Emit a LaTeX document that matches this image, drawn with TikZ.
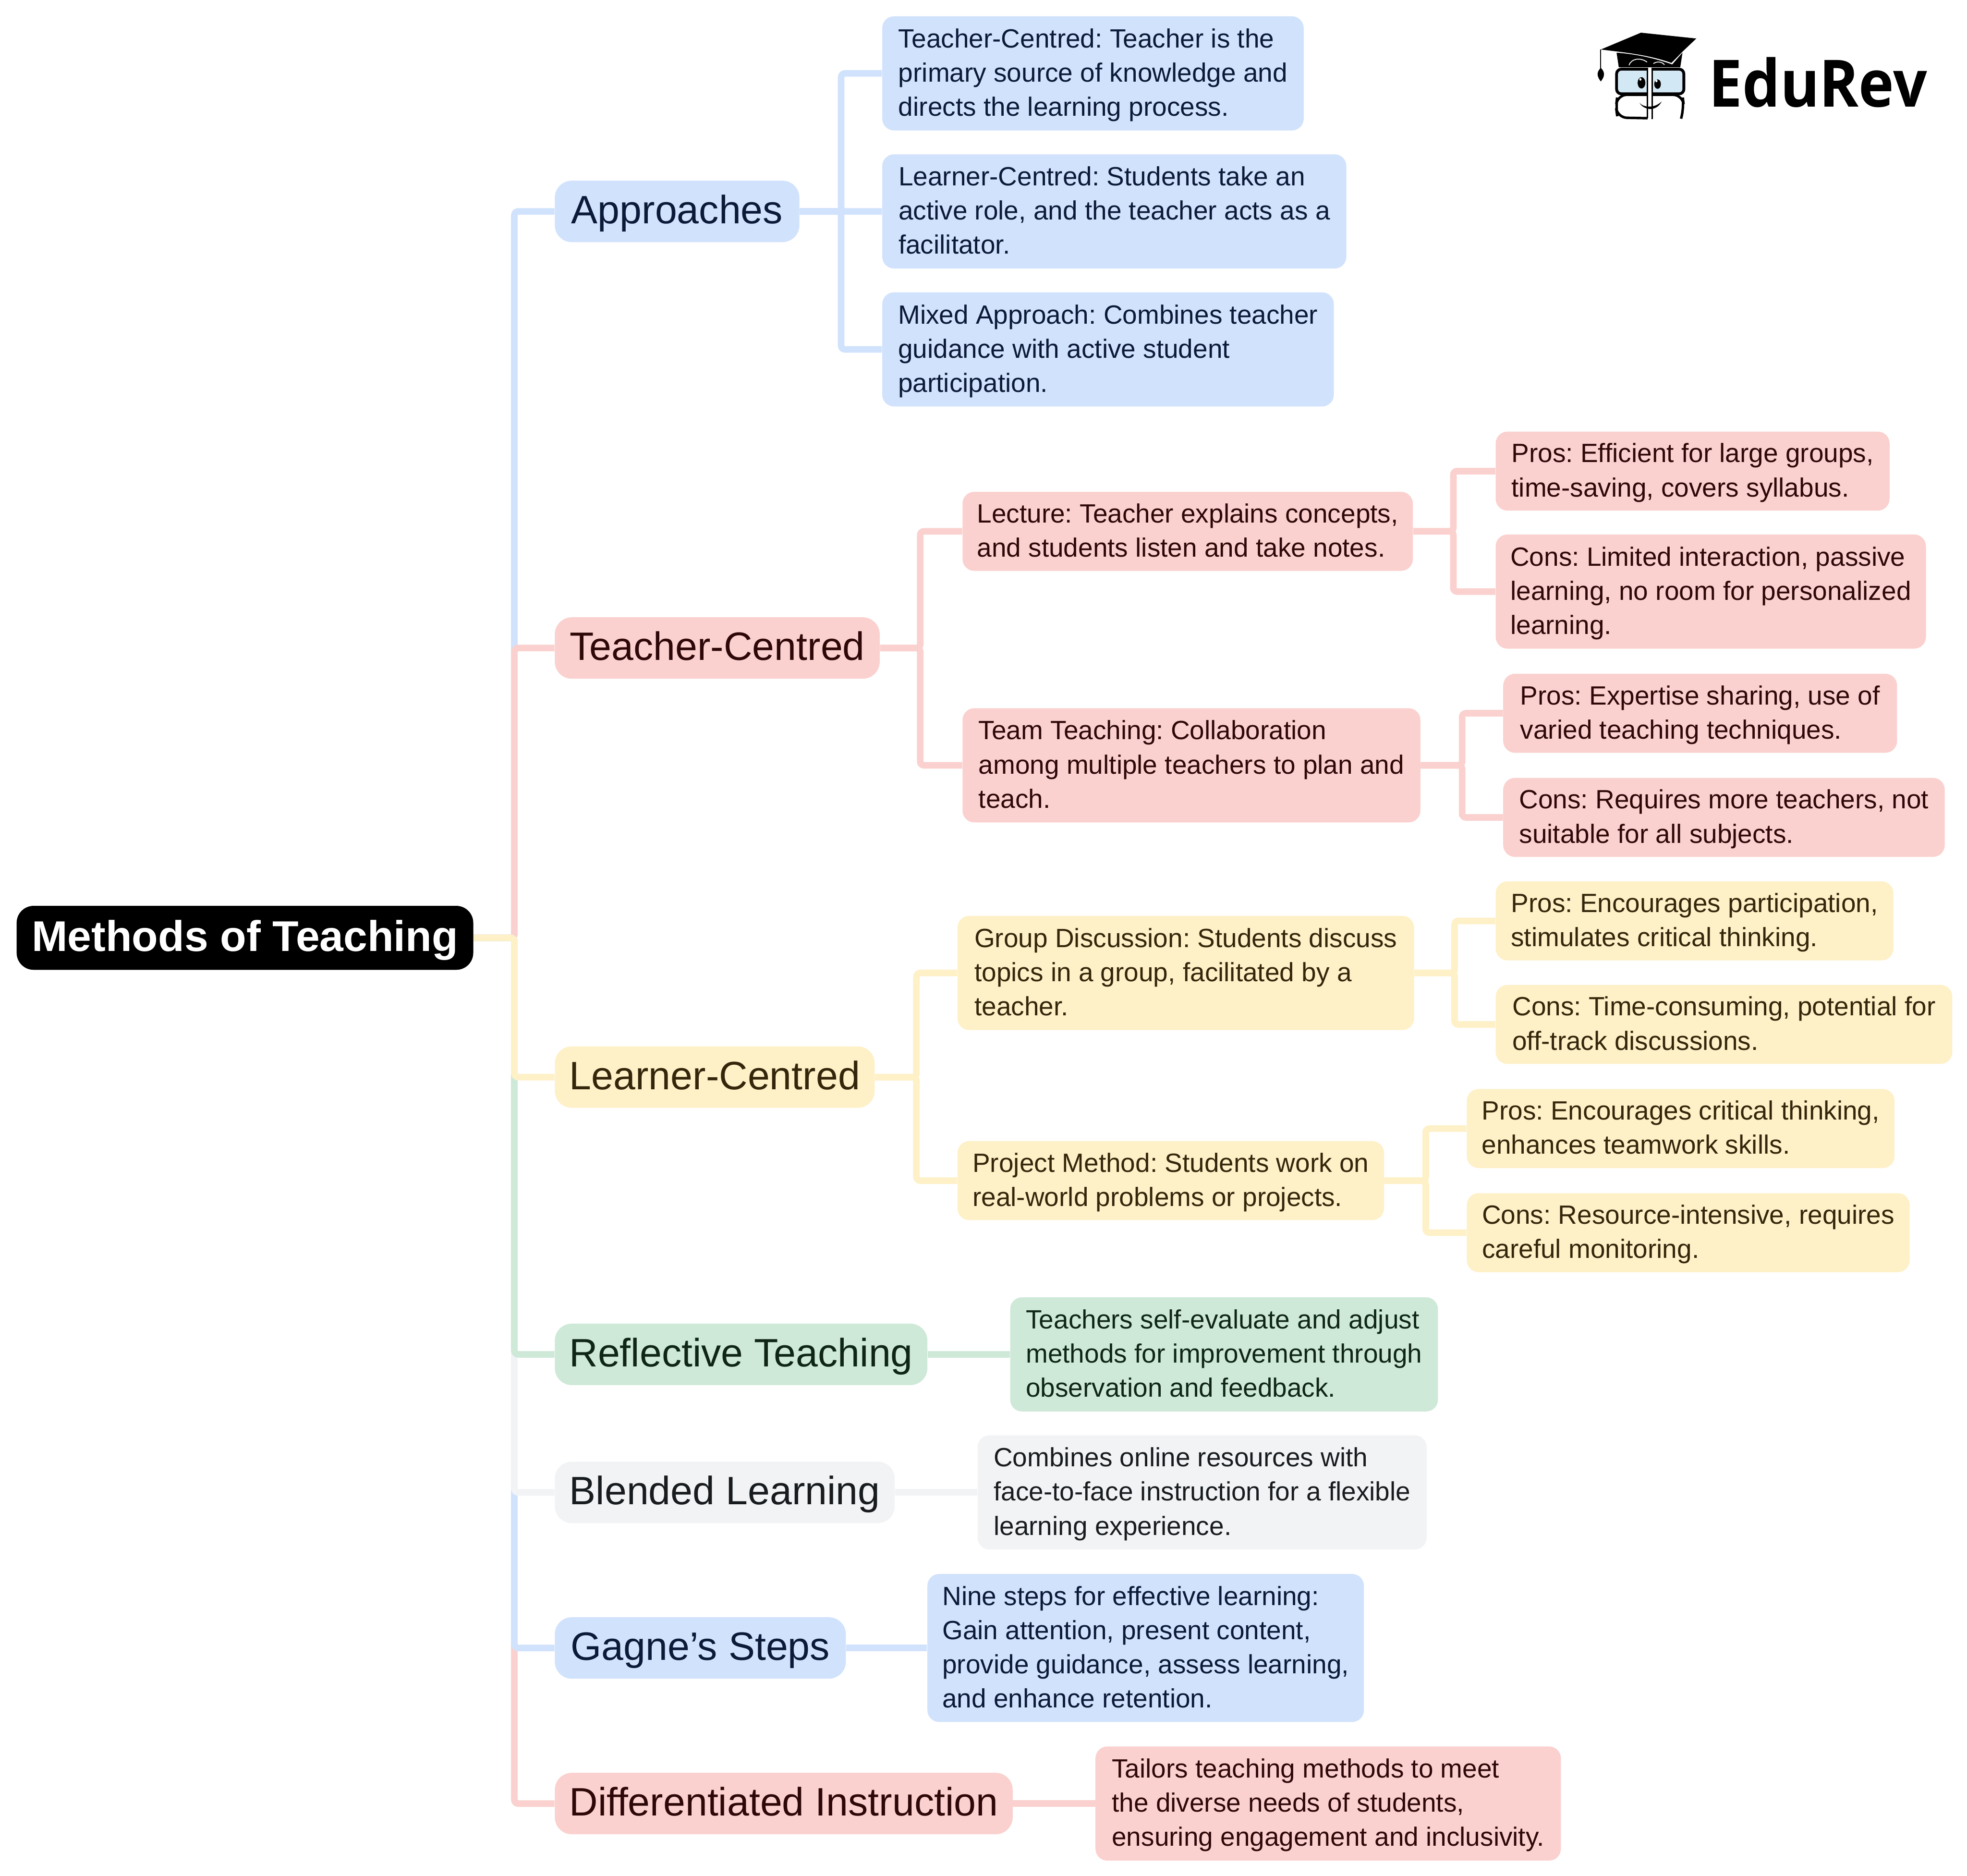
\documentclass[tikz,border=0pt]{standalone}
\usepackage{fontspec}
\usepackage{tikz}
\setmainfont{Liberation Sans}
\newfontfamily\logofont{Open Sans}[FakeStretch=0.915]
\frenchspacing

\definecolor{cblue}{HTML}{D1E2FC}
\definecolor{cpink}{HTML}{FAD1CE}
\definecolor{cyellow}{HTML}{FEF0C7}
\definecolor{cgreen}{HTML}{CEE9D8}
\definecolor{cgray}{HTML}{F2F3F5}
\definecolor{tblue}{HTML}{0A1A38}
\definecolor{tpink}{HTML}{2E0808}
\definecolor{tyellow}{HTML}{33260A}
\definecolor{tgreen}{HTML}{0F2616}
\definecolor{tgray}{HTML}{181C1E}
\definecolor{glass}{HTML}{D3E8F5}

\def\un{0.026595cm}
\newcommand{\topstrut}{\rule{0pt}{14pt}}
\newcommand{\botstrut}{\rule[-3.8pt]{0pt}{3.8pt}}
\tikzset{
  x=\un, y=-\un,
  tone/.style={fill=c#1, text=t#1},
  size/.style 2 args={minimum width=#1*\un, minimum height=#2*\un},
  leaf/.style={anchor=west, align=left, inner sep=0pt, rounded corners=0.25cm,
    font=\fontsize{15.93}{20.6}\selectfont, execute at end node=\botstrut},
  topic/.style={anchor=west, inner sep=0pt, rounded corners=0.36cm,
    text height=0.75cm, text depth=0.23cm,
    font=\fontsize{23.9}{28}\selectfont},
  rootnode/.style={topic, fill=black, text=white, text height=0.8cm,
    font=\fontsize{25.9}{30}\selectfont\bfseries},
  wire/.style={line width=0.14cm, rounded corners=0.08cm, draw=c#1},
}

\begin{document}
\begin{tikzpicture}
  \useasboundingbox (0,0) rectangle (1568,1495);

  \node[rootnode, size={364}{51}] (root) at (13,747.5) {Methods of Teaching};

  \node[topic, tone=blue, size={195}{49}] (appr) at (442,168.5) {Approaches};
  \node[topic, tone=pink, size={259}{49}] (tcen) at (442,516.5) {Teacher-Centred};
  \node[topic, tone=yellow, size={255}{49}] (lcen) at (442,858.5) {Learner-Centred};
  \node[topic, tone=green, size={297}{49}] (refl) at (442,1079.5) {Reflective Teaching};
  \node[topic, tone=gray, size={271}{49}] (blen) at (442,1189.5) {Blended Learning};
  \node[topic, tone=blue, size={232}{49}] (gagn) at (442,1313.5) {Gagne’s Steps};
  \node[topic, tone=pink, size={365}{49}] (diff) at (442,1437.5) {Differentiated Instruction};

  \node[leaf, tone=blue, size={336}{91}] (appra) at (703,58.5)
    {\topstrut Teacher-Centred: Teacher is the\\primary source of knowledge and\\directs the learning process.};
  \node[leaf, tone=blue, size={370}{91}] (apprb) at (703,168.5)
    {\topstrut Learner-Centred: Students take an\\active role, and the teacher acts as a\\facilitator.};
  \node[leaf, tone=blue, size={360}{91}] (apprc) at (703,278.5)
    {\topstrut Mixed Approach: Combines teacher\\guidance with active student\\participation.};

  \node[leaf, tone=pink, size={359}{63}] (lect) at (767,423.5)
    {\topstrut Lecture: Teacher explains concepts,\\and students listen and take notes.};
  \node[leaf, tone=pink, size={365}{91}] (team) at (767,610)
    {\topstrut Team Teaching: Collaboration\\among multiple teachers to plan and\\teach.};
  \node[leaf, tone=pink, size={314}{63}] (lectp) at (1192,375.5)
    {\topstrut Pros: Efficient for large groups,\\time-saving, covers syllabus.};
  \node[leaf, tone=pink, size={343}{91}] (lectc) at (1192,471.5)
    {\topstrut Cons: Limited interaction, passive\\learning, no room for personalized\\learning.};
  \node[leaf, tone=pink, size={314}{63}] (teamp) at (1198,568.5)
    {\topstrut Pros: Expertise sharing, use of\\varied teaching techniques.};
  \node[leaf, tone=pink, size={352}{63}] (teamc) at (1198,651.5)
    {\topstrut Cons: Requires more teachers, not\\suitable for all subjects.};

  \node[leaf, tone=yellow, size={364}{91}] (grou) at (763,775.5)
    {\topstrut Group Discussion: Students discuss\\topics in a group, facilitated by a\\teacher.};
  \node[leaf, tone=yellow, size={340}{63}] (proj) at (763,941)
    {\topstrut Project Method: Students work on\\real-world problems or projects.};
  \node[leaf, tone=yellow, size={317}{63}] (groupp) at (1192,734)
    {\topstrut Pros: Encourages participation,\\stimulates critical thinking.};
  \node[leaf, tone=yellow, size={364}{63}] (groupc) at (1192,816.5)
    {\topstrut Cons: Time-consuming, potential for\\off-track discussions.};
  \node[leaf, tone=yellow, size={341}{63}] (projp) at (1169,899.5)
    {\topstrut Pros: Encourages critical thinking,\\enhances teamwork skills.};
  \node[leaf, tone=yellow, size={353}{63}] (projc) at (1169,982.5)
    {\topstrut Cons: Resource-intensive, requires\\careful monitoring.};

  \node[leaf, tone=green, size={341}{91}] (refll) at (805,1079.5)
    {\topstrut Teachers self-evaluate and adjust\\methods for improvement through\\observation and feedback.};
  \node[leaf, tone=gray, size={358}{91}] (blenl) at (779,1189.5)
    {\topstrut Combines online resources with\\face-to-face instruction for a flexible\\learning experience.};
  \node[leaf, tone=blue, size={348}{118}] (gagnl) at (739,1313.5)
    {\topstrut Nine steps for effective learning:\\Gain attention, present content,\\provide guidance, assess learning,\\and enhance retention.};
  \node[leaf, tone=pink, size={371}{91}] (diffl) at (873,1437.5)
    {\topstrut Tailors teaching methods to meet\\the diverse needs of students,\\ensuring engagement and inclusivity.};

  % trunk
  \foreach \c/\n in {blue/appr,pink/tcen,pink/diff,blue/gagn,gray/blen,green/refl,yellow/lcen}
    \draw[wire=\c] (root.east) -- ++(32.5,0) |- (\n.west);

  % branches
  \foreach \n in {appra,apprb,apprc}
    \draw[wire=blue] (appr.east) -- ++(33,0) |- (\n.west);
  \foreach \n in {lect,team}
    \draw[wire=pink] (tcen.east) -- ++(32,0) |- (\n.west);
  \foreach \n in {lectp,lectc}
    \draw[wire=pink] (lect.east) -- ++(32,0) |- (\n.west);
  \foreach \n in {teamp,teamc}
    \draw[wire=pink] (team.east) -- ++(33,0) |- (\n.west);
  \foreach \n in {grou,proj}
    \draw[wire=yellow] (lcen.east) -- ++(33,0) |- (\n.west);
  \foreach \n in {groupp,groupc}
    \draw[wire=yellow] (grou.east) -- ++(32,0) |- (\n.west);
  \foreach \n in {projp,projc}
    \draw[wire=yellow] (proj.east) -- ++(33,0) |- (\n.west);
  \draw[wire=green] (refl.east) -- (refll.west);
  \draw[wire=gray] (blen.east) -- (blenl.west);
  \draw[wire=blue] (gagn.east) -- (gagnl.west);
  \draw[wire=pink] (diff.east) -- (diffl.west);

  % logo
  \node[anchor=base west, inner sep=0pt, font=\logofont\fontsize{39.4}{39.4}\selectfont\bfseries] (brand) at (1362,85) {EduRev};
  \begin{scope}[shift={(1222,0)}, xscale=0.2207, yscale=0.1253]
    \fill (245,315) -- (390,208) -- (590,245) -- (545,320) -- (500,400)
      .. controls (420,350) and (340,335) .. cycle;
    \fill (302,335) -- (310,428) -- (532,428) -- (540,335) -- (503,410)
      .. controls (430,365) and (370,345) .. cycle;
    \draw[white, line width=0.5pt] (347,415) .. controls (355,370) and (390,365) .. (412,395);
    \draw[white, line width=0.5pt] (435,405) .. controls (445,390) and (465,390) .. (475,412);
    \draw[line width=0.6pt] (245,315) -- (245,440);
    \fill (245,432) .. controls (225,465) and (235,495) .. (245,518)
      .. controls (255,495) and (265,465) .. (245,432) -- cycle;
    \draw[line width=1.7pt, fill=glass, rounded corners=0.1cm] (302,440) rectangle (545,597);
    \draw[line width=1.5pt, rounded corners=0.2cm] (415,603) -- (305,603) -- (300,680) -- (305,748) -- (415,752);
    \draw[line width=1.5pt, rounded corners=0.2cm] (430,603) -- (540,603) -- (545,680) -- (535,755);
    \fill[white] (414,430) rectangle (432,760);
    \draw[line width=0.9pt] (414,432) -- (414,752);
    \draw[line width=0.9pt] (430,432) -- (430,758);
    \fill (392,527) ellipse (14 and 36);
    \fill (450,535) ellipse (12 and 30);
    \fill[white] (388,505) ellipse (4 and 8);
    \fill[white] (446,515) ellipse (4 and 8);
    \fill (385,655) .. controls (400,685) and (440,690) .. (465,645)
      .. controls (445,715) and (400,700) .. cycle;
  \end{scope}
\end{tikzpicture}
\end{document}
